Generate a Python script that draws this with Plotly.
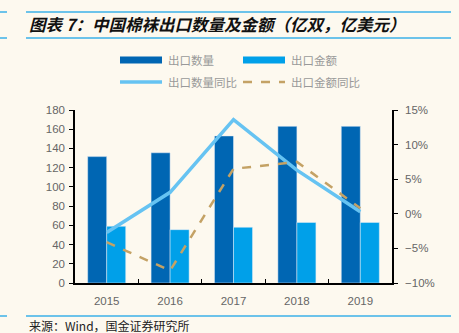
import plotly.graph_objects as go

years = ["2015", "2016", "2017", "2018", "2019"]
qty = [131.5, 135.5, 153.0, 163.0, 163.0]
amt = [59.0, 55.5, 58.0, 63.0, 63.0]
qty_yoy = [-2.7, 3.1, 13.6, 6.3, 0.3]
amt_yoy = [-4.1, -8.2, 6.5, 7.5, 0.8]

C_DARK = "#0066B3"
C_LIGHT = "#00A0E9"
C_LINE = "#66C3F2"
C_DASH = "#C4A265"
BG = "#FDF9EF"
HDR = "#3BB0E8"
FONT = "Liberation Sans, Arial, sans-serif"
CJK = "Noto Sans CJK SC"

W, H = 459, 333
L, R, T, B = 75, 392, 110, 283

def px(x):
    return (x - L) / (R - L)

def py(y):
    return (B - y) / (B - T)

fig = go.Figure()
fig.add_trace(go.Bar(x=years, y=qty, name="出口数量", marker_color=C_DARK, showlegend=False))
fig.add_trace(go.Bar(x=years, y=amt, name="出口金额", marker_color=C_LIGHT, showlegend=False))
fig.add_trace(go.Scatter(x=years, y=qty_yoy, name="出口数量同比", yaxis="y2", mode="lines",
                         line=dict(color=C_LINE, width=3.5), showlegend=False))
fig.add_trace(go.Scatter(x=years, y=amt_yoy, name="出口金额同比", yaxis="y2", mode="lines",
                         line=dict(color=C_DASH, width=2.5, dash="dash"), showlegend=False))

shapes = []
annotations = []

# header / footer rules
for yy in (12, 38, 316):
    shapes.append(dict(type="line", xref="paper", yref="paper", x0=px(26), x1=px(451),
                       y0=py(yy), y1=py(yy), line=dict(color=HDR, width=1.5)))
    shapes.append(dict(type="line", xref="paper", yref="paper", x0=px(0), x1=px(7),
                       y0=py(yy), y1=py(yy), line=dict(color=HDR, width=1.5)))

annotations.append(dict(text="<b><i>图表 7：中国棉袜出口数量及金额（亿双，亿美元）</i></b>",
                        xref="paper", yref="paper", x=px(27), y=py(24), xanchor="left",
                        yanchor="middle", showarrow=False,
                        font=dict(family=CJK, size=16.5, color="#111111")))
annotations.append(dict(text="来源：Wind，国金证券研究所", xref="paper", yref="paper",
                        x=px(27), y=py(325), xanchor="left", yanchor="middle", showarrow=False,
                        font=dict(family=CJK, size=12, color="#222222")))

# custom legend
leg = [
    ("出口数量", "rect", C_DARK, 120, 60),
    ("出口金额", "rect", C_LIGHT, 243, 60),
    ("出口数量同比", "line", C_LINE, 120, 82),
    ("出口金额同比", "dash", C_DASH, 243, 82),
]
for name, kind, col, x0, yy in leg:
    if kind == "rect":
        shapes.append(dict(type="rect", xref="paper", yref="paper", x0=px(x0), x1=px(x0 + 42),
                           y0=py(yy + 3.5), y1=py(yy - 3.5), fillcolor=col, line=dict(width=0)))
    elif kind == "line":
        shapes.append(dict(type="line", xref="paper", yref="paper", x0=px(x0), x1=px(x0 + 42),
                           y0=py(yy), y1=py(yy), line=dict(color=col, width=3.5)))
    else:
        shapes.append(dict(type="line", xref="paper", yref="paper", x0=px(x0), x1=px(x0 + 42),
                           y0=py(yy), y1=py(yy), line=dict(color=col, width=2.5, dash="dash")))
    annotations.append(dict(text=name, xref="paper", yref="paper", x=px(x0 + 46), y=py(yy),
                            xanchor="left", yanchor="middle", showarrow=False,
                            font=dict(family=CJK, size=11.5, color="#999999")))

fig.update_layout(
    width=W, height=H, autosize=False,
    margin=dict(l=L, r=W - R, t=T, b=H - B, pad=0),
    paper_bgcolor=BG, plot_bgcolor=BG,
    barmode="group", bargap=0.4, bargroupgap=0,
    font=dict(family=FONT, size=11, color="#595959"),
    shapes=shapes, annotations=annotations,
    xaxis=dict(type="category", showline=True, linecolor="black", linewidth=1.5,
               ticks="inside", tickson="boundaries", ticklen=4, tickcolor="black",
               ticklabelstandoff=6,
               showgrid=False, tickfont=dict(size=11.5, color="#666666")),
    yaxis=dict(range=[0, 180], dtick=20, showline=True, linecolor="black", linewidth=1.5,
               ticks="outside", ticklen=4, tickcolor="black", showgrid=False, zeroline=False,
               ticklabelstandoff=2,
               tickfont=dict(size=11.5, color="#666666")),
    yaxis2=dict(range=[-10, 15], dtick=5, ticksuffix="%", overlaying="y", side="right",
                showline=True, linecolor="black", linewidth=1.5, ticks="outside", ticklen=4,
                tickcolor="black", showgrid=False, zeroline=False, ticklabelstandoff=5,
                tickfont=dict(size=11.5, color="#666666")),
)

fig.write_html("out.html", config={"displayModeBar": False})
